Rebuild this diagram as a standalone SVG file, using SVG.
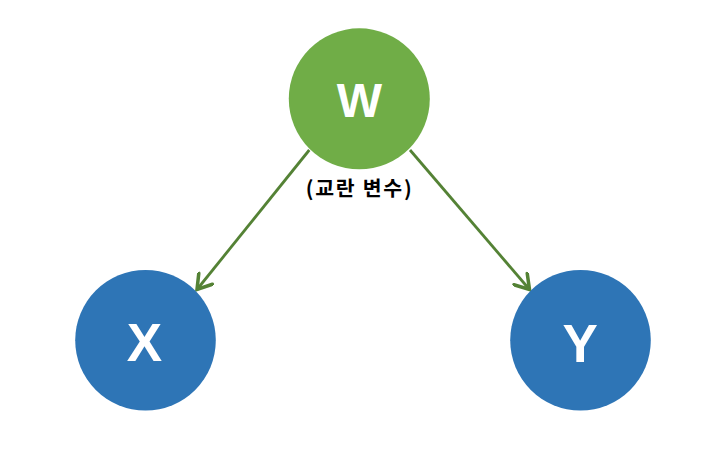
<svg xmlns="http://www.w3.org/2000/svg" width="719" height="457" viewBox="0 0 719 457">
<defs>
<style>
.w{fill:#70AD47}
.b{fill:#2E75B6}
.lbl{font-family:"Liberation Sans",Arial,sans-serif;font-weight:bold;fill:#FFFFFF;text-anchor:middle}
.edge{stroke:#548235;stroke-width:2.8;fill:none;marker-end:url(#arr)}
.note{font-family:"Noto Sans CJK KR","Liberation Sans",sans-serif;font-weight:bold;font-size:20.5px;fill:#000;text-anchor:middle}
</style>
<marker id="arr" markerUnits="userSpaceOnUse" markerWidth="20" markerHeight="20" viewBox="-14 -8 16 16" refX="0" refY="0" orient="auto">
<path d="M-11,-7 L0,0 L-11,7" fill="none" stroke="#548235" stroke-width="2.8" stroke-linecap="round" stroke-linejoin="miter"/>
</marker>
</defs>
<rect width="719" height="457" fill="#FFFFFF"/>
<g id="connectors">
<line class="edge" x1="309.3" y1="150" x2="197" y2="289.5"/>
<line class="edge" x1="410" y1="150" x2="529.5" y2="289.5"/>
</g>
<g id="node-W">
<circle class="w" cx="359.3" cy="98.8" r="70.5"/>
<text class="lbl" x="359.3" y="117.3" font-size="48">W</text>
</g>
<g id="label-W">
<text class="note" x="358.7" y="196" textLength="106" lengthAdjust="spacing">(교란 변수)</text>
</g>
<g id="node-X">
<circle class="b" cx="145.5" cy="340.3" r="70.3"/>
<text class="lbl" x="144.5" y="361" font-size="53">X</text>
</g>
<g id="node-Y">
<circle class="b" cx="580.5" cy="340.3" r="70.3"/>
<text class="lbl" x="580.3" y="361.5" font-size="53">Y</text>
</g>
</svg>
